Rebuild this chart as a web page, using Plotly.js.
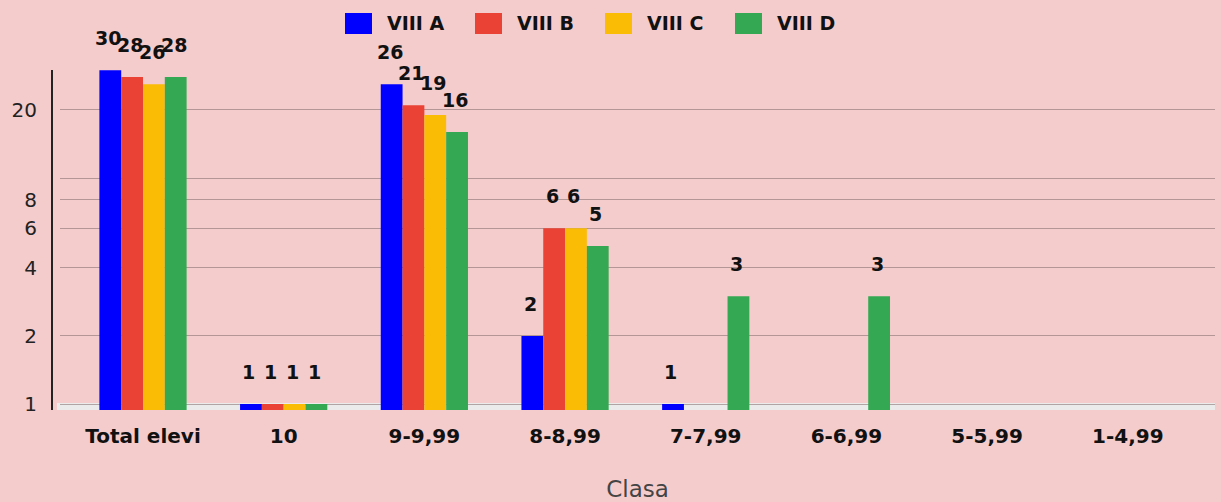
<!DOCTYPE html>
<html><head><meta charset="utf-8">
<script src="https://cdn.plot.ly/plotly-3.0.1.min.js"></script>
<style>html,body{margin:0;padding:0;background:#f4cccc;}#chart{width:1221px;height:502px;}</style>
</head><body><div id="chart"></div>
<script>
const categories = ["Total elevi", "10", "9-9,99", "8-8,99", "7-7,99", "6-6,99", "5-5,99", "1-4,99"];
const seriesNames = ["VIII A", "VIII B", "VIII C", "VIII D"];
const viiiA = [30, 1, 26, 2, 1, null, null, null];
const viiiB = [28, 1, 21, 6, null, null, null, null];
const viiiC = [26, 1, 19, 6, null, null, null, null];
const viiiD = [28, 1, 16, 5, 3, 3, null, null];
const tickVals = [1, 2, 4, 6, 8, 10, 20];
const tickText = ["1", "2", "4", "6", "8", "", "20"];
const colors = ["#0000ff", "#ea4335", "#fbbc05", "#34a853"];

const W = 1221, H = 502, ML = 40, MR = 6, MT = 70, MB = 92;
const PW = W - ML - MR, PH = H - MT - MB;
const px2x = p => (p - ML) / PW;
const px2y = p => (H - MB - p) / PH;

const series = [viiiA, viiiB, viiiC, viiiD];
const bargap = 0.38;
const barW = (1 - bargap) / series.length;
const BOLD = "DejaVu Sans, Liberation Sans, Arial, sans-serif";

const traces = series.map((vals, i) => ({
  type: "bar", name: seriesNames[i], x: categories, y: vals,
  marker: {color: colors[i]}, hoverinfo: "none", showlegend: false
}));

const annotations = [];
series.forEach((vals, i) => {
  vals.forEach((v, j) => {
    if (v === null) return;
    annotations.push({
      xref: "x", yref: "y", x: j + (i - (series.length - 1) / 2) * barW - 0.015,
      y: Math.log10(v), text: String(v), showarrow: false,
      yanchor: "middle", yshift: 32,
      font: {family: BOLD, size: 19, color: "#111", weight: "bold"}
    });
  });
});

// custom legend (large square markers)
const shapes = [{type: "rect", xref: "paper", yref: "paper", x0: px2x(57), x1: 1, y0: 0, y1: px2y(403),
  fillcolor: "#ebebeb", line: {width: 0}, layer: "below"}];
seriesNames.forEach((n, i) => {
  const x0 = 345 + 130 * i;
  shapes.push({type: "rect", xref: "paper", yref: "paper", x0: px2x(x0), x1: px2x(x0 + 27),
    y0: px2y(34), y1: px2y(13), fillcolor: colors[i], line: {width: 0}});
  annotations.push({xref: "paper", yref: "paper", x: px2x(x0 + 40), y: px2y(23),
    xanchor: "left", yanchor: "middle", text: n, showarrow: false,
    font: {family: BOLD, size: 19, color: "#111", weight: "bold"}});
});

const layout = {
  width: W, height: H,
  paper_bgcolor: "#f4cccc", plot_bgcolor: "#f4cccc",
  margin: {l: ML, r: MR, t: MT, b: MB},
  barmode: "group", bargap: bargap, bargroupgap: 0,
  showlegend: false,
  xaxis: {type: "category", domain: [px2x(60), 1], range: [-0.59, 7.62],
    showgrid: false, showline: false, ticks: "", zeroline: false, ticklabelstandoff: 12,
    tickfont: {family: BOLD, size: 20, color: "#111", weight: "bold"},
    title: {text: "Clasa", standoff: 36, font: {family: "DejaVu Sans, sans-serif", size: 23, color: "#444"}}},
  yaxis: {type: "log", range: [-0.0265, 1.478], anchor: "free", position: px2x(52),
    tickvals: tickVals, ticktext: tickText, showline: true, linecolor: "#222", linewidth: 2,
    gridcolor: "rgba(130,105,105,0.55)", gridwidth: 1, zeroline: false, ticks: "",
    ticklabelstandoff: 10,
    tickfont: {family: "DejaVu Sans, sans-serif", size: 20, color: "#222"}},
  shapes: shapes,
  annotations: annotations
};

Plotly.newPlot("chart", traces, layout, {displayModeBar: false, staticPlot: true});
</script></body></html>
